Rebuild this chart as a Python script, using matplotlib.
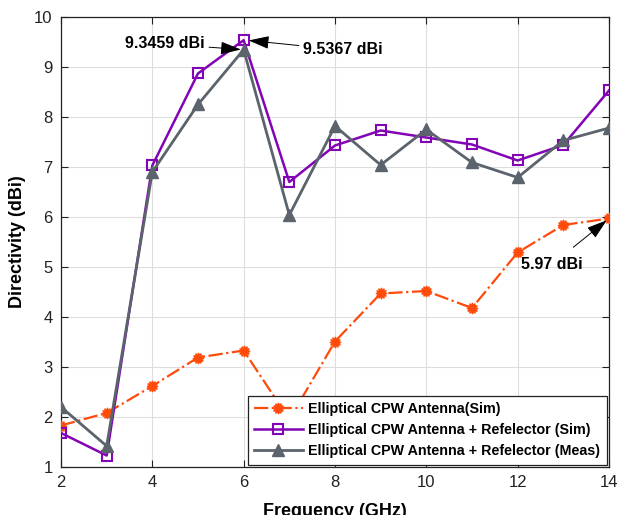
import numpy as np
import matplotlib
matplotlib.use('Agg')
import matplotlib.pyplot as plt

# data
freq = [2, 3, 4, 5, 6, 7, 8, 9, 10, 11, 12, 13, 14]
ant_sim = [1.83, 2.08, 2.62, 3.19, 3.33, 1.95, 3.51, 4.47, 4.52, 4.18, 5.29, 5.84, 5.97]
refl_sim = [1.68, 1.23, 7.03, 8.87, 9.5367, 6.70, 7.43, 7.73, 7.59, 7.45, 7.13, 7.44, 8.53]
refl_meas = [2.20, 1.42, 6.90, 8.25, 9.3459, 6.04, 7.82, 7.04, 7.75, 7.09, 6.79, 7.53, 7.78]

labels = ['Elliptical CPW Antenna(Sim)',
          'Elliptical CPW Antenna + Refelector (Sim)',
          'Elliptical CPW Antenna + Refelector (Meas)']

plt.rcParams['font.family'] = ['Liberation Sans', 'DejaVu Sans']

fig = plt.figure(figsize=(6.18, 5.15), dpi=100)
ax = fig.add_axes([0.0987, 0.0932, 0.8867, 0.8738])

c_or = '#FF4A0A'
c_pu = '#8204B4'
c_gr = '#5B636C'

ax.plot(freq, ant_sim, color=c_or, ls='-.', lw=1.6, marker=(12, 1, 0), ms=8,
        mfc=c_or, mec=c_or, label=labels[0], zorder=3)
ax.plot(freq, refl_sim, color=c_pu, ls='-', lw=1.8, marker='s', ms=6.5,
        mfc='none', mec=c_pu, mew=1.5, label=labels[1], zorder=3)
ax.plot(freq, refl_meas, color=c_gr, ls='-', lw=2.0, marker='^', ms=8,
        mfc=c_gr, mec=c_gr, label=labels[2], zorder=3)

ax.set_xlim(2, 14)
ax.set_ylim(1, 10)
ax.set_xticks(np.arange(2, 15, 2))
ax.set_yticks(np.arange(1, 11, 1))
ax.grid(True, color='#DDDDDD', lw=0.8)
ax.set_axisbelow(True)
ax.tick_params(direction='in', top=True, right=True, labelsize=12, length=5,
               width=0.8, colors='#222222', pad=6)
for s in ax.spines.values():
    s.set_color('#222222')
    s.set_linewidth(0.9)

ax.set_xlabel('Frequency (GHz)', fontsize=13, fontweight='bold', labelpad=9)
ax.set_ylabel('Directivity (dBi)', fontsize=13, fontweight='bold', labelpad=6)

arrow = dict(arrowstyle='-|>,head_length=1.1,head_width=0.35', color='k',
             lw=0.7, shrinkA=1, shrinkB=2)
ax.annotate('9.3459 dBi', xy=(6, 9.3459), xytext=(5.15, 9.46),
            fontsize=11.5, fontweight='bold', ha='right', va='center',
            arrowprops=arrow)
ax.annotate('9.5367 dBi', xy=(6.05, 9.5367), xytext=(7.3, 9.34),
            fontsize=11.5, fontweight='bold', ha='left', va='center',
            arrowprops=arrow)
ax.annotate('5.97 dBi', xy=(14, 5.97), xytext=(12.75, 5.05),
            fontsize=11.5, fontweight='bold', ha='center', va='center',
            arrowprops=dict(arrowstyle='-|>,head_length=1.1,head_width=0.35',
                            color='k', lw=0.7, shrinkA=8, shrinkB=2))

leg = ax.legend(loc='lower right', fancybox=False, framealpha=1,
                edgecolor='#222222', borderaxespad=0.15, handlelength=3.4,
                prop={'weight': 'bold', 'size': 10.3},
                labelspacing=0.5, borderpad=0.45, handletextpad=0.4)
leg.get_frame().set_linewidth(0.9)

fig.savefig('out.png', dpi=100)
